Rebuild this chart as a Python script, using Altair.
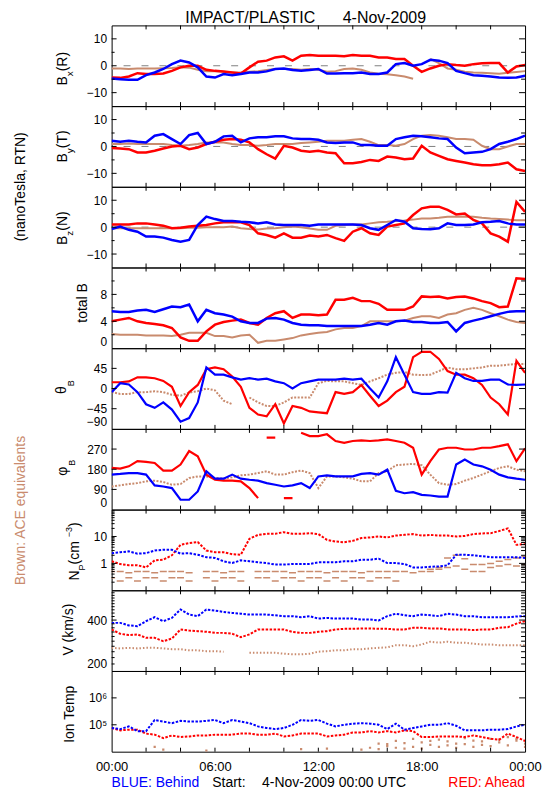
import altair as alt
import pandas as pd

FONT = "Liberation Sans"
RED, BLUE, BROWN, GRAY = "#ff0000", "#0000ff", "#c98b6e", "#808080"
W, H = 415, 81

HOURS = [0, 0.5, 1, 1.5, 2, 2.5, 3, 3.5, 4, 4.5, 5, 5.5, 6, 6.5, 7, 7.5, 8, 8.5, 9, 9.5,
         10, 10.5, 11, 11.5, 12, 12.5, 13, 13.5, 14, 14.5, 15, 15.5, 16, 16.5, 17, 17.5,
         18, 18.5, 19, 19.5, 20, 20.5, 21, 21.5, 22, 22.5, 23, 23.5, 24]
X_TICKS = [2, 4, 6, 8, 10, 12, 14, 16, 18, 20, 22]
X_LABELS = [0, 6, 12, 18, 24]

# ---- B_x (R), nT
BX_BLUE = [-4.75, -5, -5.2, -5.2, -3.5, -2.5, -1.2, 0.6, 1.9, 1.2,
           -0.6, -4, -4.4, -3.1, -3.5, -3.1, -2.5, -2.5, -2.1, -1.2,
           -1, -1.6, -1.9, -1.6, -1.2, -2.9, -2.9, -2.75, -2.75, -2.5,
           -3.1, -3.1, -2.5, 0.6, 1, 0, 0.6, 2.2, 1.9, 1,
           -1.9, -2.75, -3.5, -3.75, -4, -4.4, -4.5, -4.4, -3.75]
BX_RED = [-4.4, -4.5, -4, -2.75, -3.1, -3.1, -2.9, -1.9, -0.6, 0,
          0, -1.5, -1.9, -2.1, -2.5, -2.9, -0.6, 1.5, 1.9, 3.1,
          3.5, 1.9, 3.75, 4, 3.75, 3.75, 3.75, 3.5, 4, 3.75,
          3.75, 3.1, 3.1, 2.5, 2.5, 0, -2.25, -1, 0, 0.6,
          0.25, 0, 0.6, 0.9, 1, 1, -2.5, -0.25, 0.25]
BX_BROWN = [-1, -1, -1.2, -1, -1, -1, -0.9, -0.8, -0.6, -0.7,
            -1.5, -2, -2, -2.2, -2.5, -2.5, -2.2, -2, -1.6, -1.2,
            -1.2, -1.2, -1.5, -1.2, -1.5, -2.2, -2, -1.2, -1, -1.5,
            -2.5, -3, -3.2, -3.5, -4, -4.8, None, 2.5, 1, -1,
            -1.5, -2.2, -2.5, -2.6, -2.8, -3, -2.6, -2.3, -2]

# ---- B_y (T)
BY_BLUE = [2.1, 1.75, 2.1, 1.75, 1.5, 4, 4.6, 2.75, 0.9, 4.25,
           5, 0.9, 1.75, 3.75, 4, 1.5, 3, 3.4, 3.4, 3.75,
           3.75, 3, 2.75, 2.75, 2.5, 1.5, 1.25, 1.5, 1.5, 0.5,
           0.5, 0.25, 0.25, 2.75, 3.4, 4, 3.75, 3.4, 3, 2.75,
           -0.4, -2.5, -2.25, -2, -1, 0.9, 1.75, 2.75, 4]
BY_RED = [-0.6, -0.75, -1, -2.25, -2.25, -1.6, -0.75, 0, 0.25, -1,
          -0.4, 0.9, 1.75, 2.5, 2.75, 2.5, 1.5, -1, -2.9, -4.5,
          0.25, -0.4, -1.6, -2, -1.6, -2.25, -2.5, -6.25, -6.25, -5.75,
          -5, -5.4, -3.75, -4.1, -4.75, -4.5, 0.25, -2.25, -3.5, -4.75,
          -5.4, -6, -6.6, -7, -7, -6.6, -6, -8.5, -9.1]
BY_BROWN = [0.9, 0.9, 1.1, 0.9, 0.9, 0.9, 0.9, 0.5, 0.25, 0.5,
            0.9, 1.5, 1.5, 1.5, 0.9, 0.5, 0.5, 0.25, 0.5, 0.9,
            0.9, 0.9, 1.25, 1.5, 1.75, 2.1, 2.1, 2.1, 2.5, 2.75,
            1.75, 0.5, 0.5, 0.25, 0.9, 2.75, 4, 4.25, 4, 3.4,
            2.75, 2.75, 2.5, 0.25, -1, -1, 0, 0.9, 0.9]

# ---- B_z (N)
BZ_BLUE = [-0.7, 0.2, -1, -1.7, -3.5, -3.5, -3.9, -4.75, -5.4, -4.75,
           0.8, 3.9, 3, 2.3, 2.3, 2, 1.8, 1.4, 1.8, 1,
           0.8, 0.8, 0.8, 0.55, 1, 1, 1, 1, 1, 0.8,
           -0.4, -1, 0.8, 2.65, 2, -0.4, -0.7, -0.8, -0.4, 1.4,
           0.8, 0.8, 1, 1.8, 2, 2.3, 1.4, 1, 1]
BZ_RED = [1, 1, 1, 1.4, 1.4, 1, 0.55, -0.4, -0.2, 0.2,
          0.55, 0.8, 1.4, 1.8, 1.8, 1.8, 0.8, -2.3, -2.9, -3.9,
          -2.3, -3.9, -3.9, -3.1, -3.5, -2.9, -4.1, -5.1, -1.7, -0.4,
          -2.3, -2.9, 0.2, 0.8, 1.4, 4.5, 7, 7.6, 7.6, 6.4,
          4.75, 5.1, 2.65, 1.4, -2.3, -3.5, -5.4, 9.4, 5.7]
BZ_BROWN = [-0.4, -0.4, -0.4, -0.4, -0.4, -0.4, -0.4, -0.4, -0.4, -0.2,
            -0.2, 0, 0, 0, 0.2, -0.4, -0.7, -0.9, -0.5, -0.4,
            0, 0.2, 0, -0.5, -1, -1, 0.5, 0.8, 1, 1,
            1.4, 1.8, 2, 2.3, 2.5, 2.8, 3.2, 3.2, 3.5, 3.9,
            3.9, 4, 3.9, 3.5, 3.2, 3, 2.8, 2.6, 2.6]

# ---- total B
BT_BLUE = [5.5, 5.4, 5.4, 5.6, 5.7, 5.4, 5.8, 6.2, 6.1, 6.5,
           4, 5.7, 5.2, 5, 4.7, 4, 3.75, 3.75, 4.4, 4.5,
           4.25, 3.75, 3.5, 3.4, 3.4, 3.3, 3.3, 3.3, 3.3, 3.3,
           3.5, 3.75, 3.5, 4, 4.1, 3.9, 3.9, 3.75, 3.75, 3.9,
           2.5, 3.75, 4.1, 4.4, 4.75, 5.1, 5.4, 5.5, 5.5]
BT_RED = [4, 4.25, 4.5, 4, 3.75, 3.6, 3.4, 3, 1.6, 1.1,
          1.1, 2.5, 3.5, 3.9, 4.1, 4.25, 3.75, 3.5, 4.5, 5.2,
          5.5, 4.5, 5, 5, 4.9, 5, 7.2, 7.2, 7.5, 7,
          7, 6.6, 5.7, 5.7, 5.7, 6.2, 7.7, 7.6, 7.7, 7.4,
          7.6, 7.7, 7.4, 7, 6.7, 6.1, 6.2, 10.4, 10.3]
BT_BROWN = [2.1, 2, 2, 2, 1.9, 1.9, 1.9, 1.8, 2, 2.3,
            2.3, 2.3, 1.8, 1.8, 1.6, 1.9, 2, 0.8, 1.1, 1.1,
            1.3, 1.5, 1.9, 2.1, 2.3, 2.4, 2.8, 3, 3, 3.3,
            4, 4, 4, 4, 4.1, 4.5, 4.75, 4.75, 4.5, 5,
            5.2, 5.7, 6, 5.7, 5.2, 4.75, 4.25, 3.9, 3.75]

# ---- theta_B (deg)
TH_BLUE = [-8, 12, 9, -8, -35, -43, -31, -47, -74, -66,
           -31, 47, 31, 31, 25, 20, 23, 20, 22, 16,
           12, 0, 12, 16, 20, 20, 20, 22, 20, 22,
           0, -20, 16, 70, 31, -8, -12, -12, -8, -9,
           35, 23, 17, 17, 20, 20, 9, 8, 9]
TH_RED = [14, 14, 16, 25, 25, 23, 17, 4, -39, -8,
          8, 43, 47, 43, 27, 4, -43, -58, -62, -35,
          -78, -39, -43, -51, -53, -55, -8, -12, -8, 8,
          -16, -39, -27, -8, 4, 70, 82, 82, 66, 39,
          31, 31, 23, 8, -20, -35, -58, 62, 35]
TH_BROWN = [-8, -12, -12, -8, -8, -6, -8, -14, -16, -9,
            -6, 0, -4, -27, -35, None, -20, -31, -39, -39,
            -31, -20, -20, -20, 12, 17, 16, 16, 12, 8,
            16, 23, 31, 35, 37, 31, 30, 31, 39, 47,
            43, 43, 45, 47, 51, 51, 53, 55, 55]

# ---- phi_B (deg)
PH_BLUE = [156, 159, 163, 163, 156, 108, 103, 96, 44, 44,
           81, 171, 138, 138, 156, 138, 133, 129, 118, 111,
           103, 108, 118, 96, 148, 153, 148, 148, 148, 159,
           163, 156, 178, 84, 73, 78, 66, 63, 58, 58,
           201, 223, 201, 193, 178, 156, 144, 138, 133]
PH_RED = [186, 183, 193, 216, 213, 208, 174, 174, 201, 261,
          238, 156, 133, 129, 129, 126, 96, 51, 321, 321,
          51, 51, 343, 328, 328, 336, 306, 298, 306, 309,
          306, 309, 313, 306, 298, 276, 156, 216, 268, 276,
          276, 268, 268, 276, 276, 283, 291, 216, 273]
PH_BROWN = [103, 108, 114, 118, 126, 129, 123, 111, 114, 141,
            148, 148, 141, 138, 144, 153, 156, 163, 171, 156,
            156, 167, 174, 163, 96, 148, 148, 144, 138, 126,
            126, 163, 171, 198, 201, 204, 198, 156, 118, 111,
            114, 129, 141, 156, 171, 186, 193, 178, 171]

# ---- N_p (cm^-3)
NP_BLUE = [2.4, 2.6, 2.8, 2.3, 2.4, 3, 3.2, 3.2, 2.3, 2.4,
           2.1, 1.7, 1.6, 1.2, 1.03, 1.3, 1.2, 1.1, 1.03, 0.9,
           0.9, 0.95, 0.95, 0.95, 1.1, 1.1, 1.1, 1.2, 1.2, 1.37,
           1.37, 1.5, 1.03, 1.03, 0.95, 0.71, 0.71, 0.75, 0.77, 0.85,
           2.1, 2.1, 2, 1.85, 1.7, 1.7, 1.7, 1.7, 1.6]
NP_RED = [1.2, 0.94, 0.85, 0.85, 0.71, 1.3, 1.37, 2, 4.9, 5.7,
          6.2, 3, 2.6, 2.6, 2.2, 2.1, 8.2, 11.5, 12.6, 12.6,
          14.5, 12.6, 12.6, 13.2, 12.3, 7.5, 6.5, 6.1, 6.9, 8.8,
          9.2, 10, 9.2, 10.8, 11.5, 12.3, 10.8, 11.5, 10.8, 10.8,
          10, 10.5, 12.3, 13, 13.2, 16, 20, 4.9, 5.2]
NP_BROWN_A = [0.5, 0.5, 0.45, 0.5, 0.5, 0.45, 0.5, 0.5, 0.5, 0.45,
              None, 0.5, 0.5, 0.45, 0.5, 0.5, None, 0.5, 0.5, 0.5,
              0.5, 0.45, 0.5, 0.5, 0.5, 0.45, 0.5, 0.5, 0.5, 0.45,
              0.5, 0.5, 0.5, 0.5, 0.5, 0.45, 0.5, 0.6, 0.7, 1.6,
              2.0, 1.5, 0.9, 0.9, 1.0, 1.2, 1.4, 1.6, 1.8]
NP_BROWN_B = [0.29, 0.22, 0.29, 0.22, 0.29, 0.29, 0.22, 0.29, 0.29, 0.22,
              None, 0.29, 0.22, 0.29, 0.29, 0.22, None, 0.29, 0.29, 0.22,
              0.29, 0.29, 0.22, 0.29, 0.29, 0.22, 0.29, 0.22, 0.29, 0.29,
              0.22, 0.29, 0.29, 0.22, None, None, None, 0.5, 0.6, 0.7,
              0.8, 0.6, 0.5, 0.5, 0.7, 0.8, 0.9, 0.8, 0.9]

# ---- V (km/s)
V_BLUE = [385, 385, 372, 368, 394, 416, 394, 412, 462, 431,
          422, 462, 455, 447, 441, 436, 431, 431, 431, 427,
          422, 422, 416, 422, 408, 412, 408, 408, 408, 403,
          403, 398, 422, 436, 427, 422, 431, 427, 422, 436,
          431, 422, 422, 416, 416, 416, 416, 420, 422]
V_RED = [352, 332, 326, 329, 314, 314, 300, 311, 352, 347,
         344, 341, 336, 336, 332, 317, 329, 352, 352, 352,
         352, 340, 336, 336, 341, 344, 352, 355, 355, 357,
         357, 355, 355, 352, 352, 360, 360, 357, 357, 352,
         352, 352, 349, 352, 352, 360, 363, 381, 394]
V_BROWN = [274, 272, 274, 272, 274, 274, 272, 269, 269, 265,
           265, 262, 262, 260, None, None, 256, 256, 256, 256,
           253, 251, 251, 253, 260, 262, 265, 265, 269, 269,
           272, 274, 276, 284, 284, 280, 287, 298, 294, 298,
           294, 294, 290, 287, 287, 284, 284, 284, 284]

# ---- Ion temperature (K)
T_BLUE = [76000, 69000, 87000, 58000, 58000, 151000, 132000, 115000, 140000, 132000,
          132000, 140000, 151000, 115000, 151000, 132000, 115000, 87000, 76000, 69000,
          76000, 100000, 151000, 140000, 151000, 110000, 87000, 100000, 110000, 115000,
          110000, 100000, 69000, 110000, 66000, 76000, 87000, 100000, 100000, 115000,
          92000, 62000, 62000, 62000, 66000, 66000, 69000, 87000, 100000]
T_RED = [76000, 62000, 66000, 66000, 47000, 43000, 32000, 40000, 35000, 37000,
         40000, 40000, 43000, 43000, 43000, 47000, 47000, 43000, 43000, 47000,
         37000, 40000, 47000, 47000, 47000, 37000, 40000, 43000, 52000, 52000,
         58000, 52000, 58000, 52000, 62000, 58000, 35000, 35000, 37000, 37000,
         37000, 35000, 40000, 35000, 30000, 28000, 47000, 35000, 25000]
T_BROWN_A = [None, None, None, None, None, 15000, 12000, None, None, None,
             None, 11000, None, None, None, None, None, None, None, None,
             None, None, 12500, None, None, 13000, None, None, None, None,
             14000, 20000, 16000, 25000, 13000, 30000, 22000, 18000, 28000, 24000,
             20000, 32000, 26000, 18000, 30000, 22000, 35000, 26000, 20000]
T_BROWN_B = [None, None, None, None, None, None, None, None, None, None,
             None, None, None, None, None, None, None, None, None, None,
             None, None, None, None, None, None, None, None, None, 12000,
             None, 12500, 19000, 14000, 21000, 15000, 13000, 25000, 15000, 17000,
             14000, 19000, 15000, 24000, 16000, 28000, 17000, 30000, 15000]

# ---- axis tick values
B_MAJOR, B_MINOR = [-10, 0, 10], [-5, 5]
BT_MAJOR, BT_MINOR, BT_LABELS = [4, 8], [2, 6, 10], [0, 4, 8]
TH_MAJOR, TH_LABELS = [-45, 0, 45], [-90, -45, 0, 45]
PH_MAJOR, PH_LABELS = [90, 180, 270], [0, 90, 180, 270]
NP_MAJOR = [1, 10]
NP_MINOR = [0.2, 0.3, 0.4, 0.5, 0.6, 0.7, 0.8, 0.9, 2, 3, 4, 5, 6, 7, 8, 9,
            20, 30, 40, 50, 60, 70, 80, 90]
V_LABELS, V_MAJOR = [200, 400], [400]
V_MINOR = [220, 240, 260, 280, 300, 320, 340, 360, 380, 420, 440, 460, 480,
           500, 520, 540, 560, 580]
T_MAJOR = [100000, 1000000]

ONE = pd.DataFrame({"k": [0]})
XS = alt.Scale(domain=[0, 24], nice=False, zero=False)

CW = {"B": .667, "x": .5, "y": .5, "z": .5, "(": .333, ")": .333, "R": .722,
      "T": .611, "N": .722, "P": .667, " ": .278, "c": .5, "m": .833, "\u2212": .584,
      "3": .556, "\u03b8": .556, "\u03c6": .72, "t": .278, "o": .556, "a": .556,
      "l": .222, "V": .667, "k": .5, "/": .278, "s": .5, "I": .278, "n": .556,
      "e": .556, "p": .556}


def tw(s, size):
    return sum(CW.get(c, .556) for c in s) * size


def seg_df(vals, wrap=None):
    rows, seg, prev = [], 0, None
    for h, v in zip(HOURS, vals):
        if v is None:
            if prev is not None:
                seg += 1
            prev = None
            continue
        if wrap is not None and prev is not None and abs(v - prev) > wrap:
            seg += 1
        rows.append({"h": h, "v": v, "seg": seg})
        prev = v
    return pd.DataFrame(rows)


def text_layer(text, x, y, size=14, color="black", align="center",
               baseline="middle", angle=None):
    kw = dict(text=text, font=FONT, fontSize=size, color=color, align=align,
              baseline=baseline)
    if angle is not None:
        kw["angle"] = angle
    return alt.Chart(ONE).mark_text(**kw).encode(x=alt.value(x), y=alt.value(y))


def rot_label(pieces, x0, center):
    total = sum(tw(t, s) for t, s, _ in pieces)
    y = center + total / 2
    out = []
    for t, s, dx in pieces:
        out.append(text_layer(t, x0 + dx, y, size=s, align="left", angle=270))
        y -= tw(t, s)
    return out


def line(vals, color, width=2.5, dash=None, wrap=None):
    def make(ys):
        mk = dict(color=color, strokeWidth=width, clip=True)
        if dash:
            mk["strokeDash"] = dash
        return alt.Chart(seg_df(vals, wrap)).mark_line(**mk).encode(
            x=alt.X("h:Q", scale=XS, axis=None),
            y=alt.Y("v:Q", scale=ys, axis=None),
            detail="seg:N")
    return make


def dashes(vals, color):
    def make(ys):
        return alt.Chart(seg_df(vals)).mark_tick(
            orient="horizontal", size=7, thickness=1.5, color=color, clip=True,
            opacity=1).encode(
            x=alt.X("h:Q", scale=XS, axis=None),
            y=alt.Y("v:Q", scale=ys, axis=None))
    return make


def dots(vals, color):
    def make(ys):
        return alt.Chart(seg_df(vals)).mark_square(
            size=5, color=color, opacity=1, clip=True).encode(
            x=alt.X("h:Q", scale=XS, axis=None),
            y=alt.Y("v:Q", scale=ys, axis=None))
    return make


def panel(cfg, last=False):
    sk = dict(domain=cfg["domain"], nice=False, zero=False)
    if cfg.get("stype"):
        sk["type"] = cfg["stype"]
    ys = alt.Scale(**sk)
    layers = []
    if cfg.get("zero"):
        layers.append(alt.Chart(pd.DataFrame({"v": [0]})).mark_rule(
            color=GRAY, strokeWidth=1, strokeDash=[7, 11]).encode(
            y=alt.Y("v:Q", scale=ys, axis=None)))
    for s in cfg["series"]:
        layers.append(s(ys))
    ax = dict(values=cfg["labels"], orient="left", domain=False, ticks=False,
              grid=False, title=None, labelPadding=5, labelFontSize=12,
              labelFont=FONT, labelColor="black", labelFlush=True,
              labelOverlap=False)
    if "expr" in cfg:
        ax["labelExpr"] = cfg["expr"]
    major = pd.DataFrame({"v": cfg["major"]})
    layers.append(alt.Chart(major).mark_rule(color="black", strokeWidth=1).encode(
        y=alt.Y("v:Q", scale=ys, axis=alt.Axis(**ax)),
        x=alt.value(0), x2=alt.value(5)))
    layers.append(alt.Chart(major).mark_rule(color="black", strokeWidth=1).encode(
        y=alt.Y("v:Q", scale=ys, axis=None),
        x=alt.value(W - 6), x2=alt.value(W)))
    if cfg.get("minor"):
        minor = pd.DataFrame({"v": cfg["minor"]})
        layers.append(alt.Chart(minor).mark_rule(color="black", strokeWidth=1).encode(
            y=alt.Y("v:Q", scale=ys, axis=None),
            x=alt.value(0), x2=alt.value(3)))
        layers.append(alt.Chart(minor).mark_rule(color="black", strokeWidth=1).encode(
            y=alt.Y("v:Q", scale=ys, axis=None),
            x=alt.value(W - 4), x2=alt.value(W)))
    xt = pd.DataFrame({"h": X_TICKS})
    if last:
        xax = alt.Axis(values=X_LABELS, orient="bottom", domain=False, ticks=False,
                       grid=False, title=None, labelPadding=9, labelFontSize=13,
                       labelFont=FONT, labelColor="black", labelFlush=False,
                       labelOverlap=False,
                       labelExpr="['00:00','06:00','12:00','18:00','00:00'][round(datum.value/6)]")
    else:
        xax = None
    layers.append(alt.Chart(xt).mark_rule(color="black", strokeWidth=1).encode(
        x=alt.X("h:Q", scale=XS, axis=xax), y=alt.value(0), y2=alt.value(4)))
    layers.append(alt.Chart(xt).mark_rule(color="black", strokeWidth=1).encode(
        x=alt.X("h:Q", scale=XS, axis=None), y=alt.value(H - 4), y2=alt.value(H)))
    layers += cfg["texts"]
    return alt.layer(*layers).resolve_axis(x="independent", y="independent").properties(
        width=W, height=H)


B_DOM = [-15, 15]
panels = [
    dict(domain=B_DOM, zero=True, labels=B_MAJOR, major=B_MAJOR, minor=B_MINOR,
         series=[line(BX_BROWN, BROWN, 2), line(BX_RED, RED), line(BX_BLUE, BLUE)],
         texts=rot_label([("B", 14, 0), ("x", 10, 7), ("(R)", 14, 0)], -49, 43.5)
         + [text_layer("IMPACT/PLASTIC", 74, -2, 16, align="left", baseline="alphabetic"),
            text_layer("4-Nov-2009", 232, -2, 16, align="left", baseline="alphabetic")]),
    dict(domain=B_DOM, zero=True, labels=B_MAJOR, major=B_MAJOR, minor=B_MINOR,
         series=[line(BY_BROWN, BROWN, 2), line(BY_RED, RED), line(BY_BLUE, BLUE)],
         texts=rot_label([("B", 14, 0), ("y", 10, 7), ("(T)", 14, 0)], -49, 40.5)
         + [text_layer("(nanoTesla, RTN)", -91, 81, 14, angle=270)]),
    dict(domain=B_DOM, zero=True, labels=B_MAJOR, major=B_MAJOR, minor=B_MINOR,
         series=[line(BZ_BROWN, BROWN, 2), line(BZ_RED, RED), line(BZ_BLUE, BLUE)],
         texts=rot_label([("B", 14, 0), ("z", 10, 7), ("(N)", 14, 0)], -49, 41.5)),
    dict(domain=[0, 12], labels=BT_LABELS, major=BT_MAJOR, minor=BT_MINOR,
         series=[line(BT_BROWN, BROWN, 2), line(BT_RED, RED), line(BT_BLUE, BLUE)],
         texts=rot_label([("total B", 14, 0)], -29, 35.5)),
    dict(domain=[-90, 90], labels=TH_LABELS, major=TH_MAJOR,
         series=[line(TH_BROWN, BROWN, 2, dash=[2, 1.5]), line(TH_RED, RED, 2.2),
                 line(TH_BLUE, BLUE, 2.2)],
         texts=rot_label([("\u03b8", 14, 0), ("B", 9, 9)], -50, 39)),
    dict(domain=[0, 360], labels=PH_LABELS, major=PH_MAJOR,
         series=[line(PH_BROWN, BROWN, 2, dash=[2, 1.5], wrap=150),
                 line(PH_RED, RED, 2.2, wrap=150), line(PH_BLUE, BLUE, 2.2, wrap=150)],
         texts=rot_label([("\u03c6", 14, 0), ("B", 9, 9)], -49, 39)),
    dict(domain=[0.1, 100], stype="log", labels=NP_MAJOR, major=NP_MAJOR, minor=NP_MINOR,
         expr="datum.value >= 10 ? '10' : '1'",
         series=[dashes(NP_BROWN_A, BROWN), dashes(NP_BROWN_B, BROWN),
                 line(NP_RED, RED, 2, dash=[2.5, 1.5]), line(NP_BLUE, BLUE, 2, dash=[2.5, 1.5])],
         texts=rot_label([("N", 14, 0), ("P", 9, 7), (" (cm", 14, 0),
                          ("\u22123", 9, -6), (")", 14, 0)], -37, 42)
         + [text_layer("Brown: ACE equivalents", -91, 1, 14, color=BROWN, angle=270)]),
    dict(domain=[200, 600], stype="log", labels=V_LABELS, major=V_MAJOR, minor=V_MINOR,
         expr="datum.value >= 300 ? '400' : '200'",
         series=[line(V_BROWN, BROWN, 2, dash=[1.5, 2]),
                 line(V_RED, RED, 2, dash=[2.5, 1.5]), line(V_BLUE, BLUE, 2, dash=[2.5, 1.5])],
         texts=rot_label([("V (km/s)", 14, 0)], -43, 39.5)),
    dict(domain=[10000, 10000000], stype="log", labels=T_MAJOR, major=T_MAJOR,
         expr="datum.value >= 500000 ? '10\u2076' : '10\u2075'",
         series=[dots(T_BROWN_A, BROWN), dots(T_BROWN_B, BROWN),
                 line(T_RED, RED, 2, dash=[2.5, 1.5]), line(T_BLUE, BLUE, 2, dash=[2.5, 1.5])],
         texts=rot_label([("Ion Temp", 14, 0)], -42, 42.5)
         + [text_layer("BLUE: Behind", 0, 116, 14, color=BLUE, align="left", baseline="alphabetic"),
            text_layer("Start:", 101, 116, 14, align="left", baseline="alphabetic"),
            text_layer("4-Nov-2009 00:00 UTC", 151, 116, 14, align="left", baseline="alphabetic"),
            text_layer("RED: Ahead", W, 116, 14, color=RED, align="right", baseline="alphabetic")]),
]

charts = [panel(c, last=(i == len(panels) - 1)) for i, c in enumerate(panels)]

chart = alt.vconcat(*charts, spacing=0, bounds="flush").properties(
    padding={"left": 5, "top": 0, "right": 0, "bottom": 0}
).configure_view(stroke="black", strokeWidth=1)

chart.save("out.html", embed_options={"renderer": "svg", "actions": False})
